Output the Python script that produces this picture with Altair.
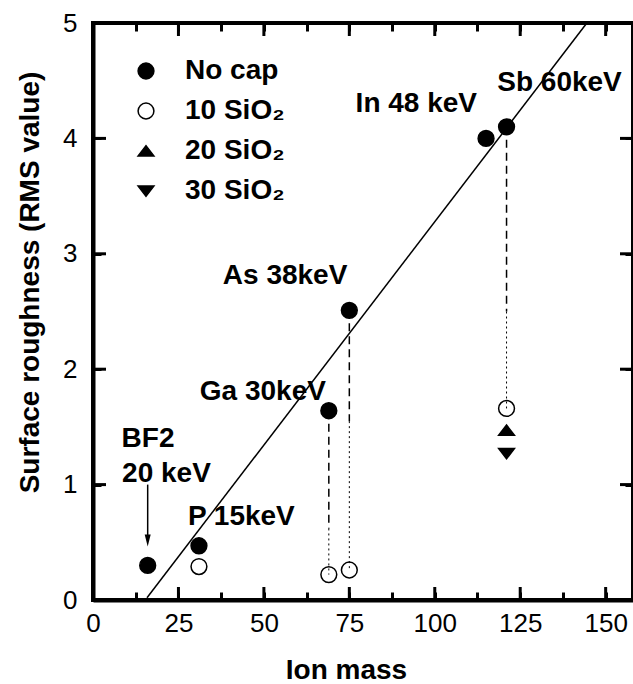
import altair as alt
import pandas as pd

FONT = "Liberation Sans"

# ---------------- data ----------------
series_names = ["No cap", "10 SiO₂", "20 SiO₂", "30 SiO₂"]

nocap_mass = [16, 31, 69, 75, 115, 121]
nocap_rms = [0.30, 0.47, 1.64, 2.51, 4.00, 4.10]

cap10_mass = [31, 69, 75, 121]
cap10_rms = [0.29, 0.22, 0.26, 1.66]

cap20_mass = [121]
cap20_rms = [1.47]

cap30_mass = [121]
cap30_rms = [1.27]

fit_mass = [15.8, 144.5]
fit_rms = [0.02, 5.0]

drop_mass = [69, 75, 121]
drop_top = [1.64, 2.51, 4.10]
drop_break = [0.62, 1.55, 2.50]
drop_bottom = [0.22, 0.26, 1.66]

label_text = ["In 48 keV", "Sb 60keV", "As 38keV", "Ga 30keV", "BF2", "20 keV", "P 15keV"]
label_mass = [94.6, 136.5, 56.2, 49.7, 16.1, 21.5, 43.4]
label_rms = [4.30, 4.48, 2.81, 1.80, 1.395, 1.09, 0.715]

arrow_mass = [16]
arrow_top = [1.0]
arrow_tip = [0.515]

x_ticks = [0, 12.5, 25, 37.5, 50, 62.5, 75, 87.5, 100, 112.5, 125, 137.5, 150]
y_ticks = [0, 0.5, 1, 1.5, 2, 2.5, 3, 3.5, 4, 4.5, 5]
x_major = [0, 25, 50, 75, 100, 125, 150]
y_major = [0, 1, 2, 3, 4, 5]

X_MAX = 158
Y_MAX = 5
W, H = 540, 577
TK = 8      # grid-dash tick length (all ticks)
MAJ = 13    # major tick length

# ---------------- tables ----------------
pts = pd.concat([
    pd.DataFrame({"mass": nocap_mass, "rms": nocap_rms, "series": series_names[0]}),
    pd.DataFrame({"mass": cap10_mass, "rms": cap10_rms, "series": series_names[1]}),
    pd.DataFrame({"mass": cap20_mass, "rms": cap20_rms, "series": series_names[2]}),
    pd.DataFrame({"mass": cap30_mass, "rms": cap30_rms, "series": series_names[3]}),
], ignore_index=True)
fit = pd.DataFrame({"mass": fit_mass, "rms": fit_rms})
drops = pd.DataFrame({"mass": drop_mass, "top": drop_top, "brk": drop_break, "bottom": drop_bottom})
labels = pd.DataFrame({"text": label_text, "mass": label_mass, "rms": label_rms})
arrow = pd.DataFrame({"mass": arrow_mass, "top": arrow_top, "tip": arrow_tip})

xs = alt.Scale(domain=[0, X_MAX], nice=False, zero=False)
ys = alt.Scale(domain=[0, Y_MAX], nice=False, zero=False)
px_x = X_MAX / W
px_y = Y_MAX / H

# inward ticks on all four sides: grid lines dashed so only both ends show
x_axis = alt.Axis(values=x_ticks, format="d", ticks=False, domain=True, domainColor="black",
                  domainWidth=4, grid=True, gridColor="black", gridWidth=3, gridOpacity=1,
                  gridDash=[TK, H - 2 * TK, TK],
                  labelExpr="datum.value % 25 === 0 ? datum.label : ''",
                  labelFontSize=26, labelPadding=10, labelFlush=False,
                  labelColor="black", labelFont=FONT,
                  title="Ion mass", titleFontSize=28, titleFontWeight="bold",
                  titleColor="black", titleFont=FONT, titleBaseline="middle",
                  titleAlign="center", titleX=253, titleY=70)
y_axis = alt.Axis(values=y_ticks, format="d", ticks=False, domain=True, domainColor="black",
                  domainWidth=4, grid=True, gridColor="black", gridWidth=3, gridOpacity=1,
                  gridDash=[TK, W - 2 * TK, TK],
                  labelExpr="datum.value % 1 === 0 ? datum.label : ''",
                  labelFontSize=26, labelPadding=16, labelFlush=False,
                  labelColor="black", labelFont=FONT,
                  title="Surface roughness (RMS value)", titleFontSize=28,
                  titleFontWeight="bold", titleColor="black", titleFont=FONT,
                  titleBaseline="middle", titleAlign="center", titleAngle=270,
                  titleX=-63, titleY=259)

tri_up = "M-1,0.62L1,0.62L0,-0.68Z"
tri_down = "M-1,-0.62L1,-0.62L0,0.68Z"

legend = alt.Legend(title=None, orient="none", legendX=39, legendY=34,
                    labelFontSize=28, labelFontWeight="bold", labelFont=FONT,
                    labelColor="black", symbolSize=250, symbolStrokeColor="black",
                    symbolStrokeWidth=1.5, rowPadding=12, labelOffset=25, padding=0)

points = alt.Chart(pts).mark_point(filled=True, strokeWidth=1.5,
                                   opacity=1, size=250).encode(
    x=alt.X("mass:Q", scale=xs, axis=x_axis),
    y=alt.Y("rms:Q", scale=ys, axis=y_axis),
    shape=alt.Shape("series:N", scale=alt.Scale(domain=series_names,
                    range=["circle", "circle", tri_up, tri_down]), legend=legend),
    fill=alt.Fill("series:N", scale=alt.Scale(domain=series_names,
                  range=["black", "white", "black", "black"]), legend=legend),
    stroke=alt.Stroke("series:N", scale=alt.Scale(domain=series_names,
                      range=["black", "black", "black", "black"]), legend=legend),
)

# longer major ticks on all four sides
def xticks(at_top):
    y0, y1 = (Y_MAX, Y_MAX - MAJ * px_y) if at_top else (0, MAJ * px_y)
    df = pd.DataFrame({"v": x_major, "a": [y0] * len(x_major), "b": [y1] * len(x_major)})
    return alt.Chart(df).mark_rule(color="black", strokeWidth=3).encode(
        x=alt.X("v:Q", scale=xs), y=alt.Y("a:Q", scale=ys), y2="b:Q")

def yticks(at_right):
    x0, x1 = (X_MAX, X_MAX - MAJ * px_x) if at_right else (0, MAJ * px_x)
    df = pd.DataFrame({"v": y_major, "a": [x0] * len(y_major), "b": [x1] * len(y_major)})
    return alt.Chart(df).mark_rule(color="black", strokeWidth=3).encode(
        y=alt.Y("v:Q", scale=ys), x=alt.X("a:Q", scale=xs), x2="b:Q")

# dashed drop lines
drop_dash = alt.Chart(drops).mark_rule(color="black", strokeWidth=1.5, strokeDash=[8, 5]).encode(
    x=alt.X("mass:Q", scale=xs), y=alt.Y("top:Q", scale=ys), y2="brk:Q")
drop_dot = alt.Chart(drops).mark_rule(color="black", strokeWidth=1, strokeDash=[2, 3]).encode(
    x=alt.X("mass:Q", scale=xs), y=alt.Y("brk:Q", scale=ys), y2="bottom:Q")

fit_line = alt.Chart(fit).mark_line(color="black", strokeWidth=1.5).encode(
    x=alt.X("mass:Q", scale=xs), y=alt.Y("rms:Q", scale=ys))

texts = alt.Chart(labels).mark_text(font=FONT, fontSize=28, fontWeight="bold",
                                    color="black", align="center", baseline="middle").encode(
    x=alt.X("mass:Q", scale=xs), y=alt.Y("rms:Q", scale=ys), text="text:N")

arrow_shaft = alt.Chart(arrow).mark_rule(color="black", strokeWidth=1.5).encode(
    x=alt.X("mass:Q", scale=xs), y=alt.Y("top:Q", scale=ys), y2="tip:Q")
arrow_head = alt.Chart(arrow).mark_point(shape="M-0.5,-1L0.5,-1L0,1Z", filled=True,
                                         color="black", opacity=1, size=144).encode(
    x=alt.X("mass:Q", scale=xs), y=alt.Y("tip:Q", scale=ys))

chart = alt.layer(
    points, drop_dash, drop_dot, fit_line, arrow_shaft, arrow_head, texts,
    xticks(False), xticks(True), yticks(False), yticks(True)
).properties(
    width=W, height=H,
    autosize=alt.AutoSizeParams(type="none"),
    padding={"left": 93, "top": 23, "right": 0, "bottom": 84},
    background="white",
).configure(
    font=FONT,
    view=alt.ViewConfig(stroke="black", strokeWidth=4),
)

chart.save("out.html", embed_options={"renderer": "svg", "actions": False})
